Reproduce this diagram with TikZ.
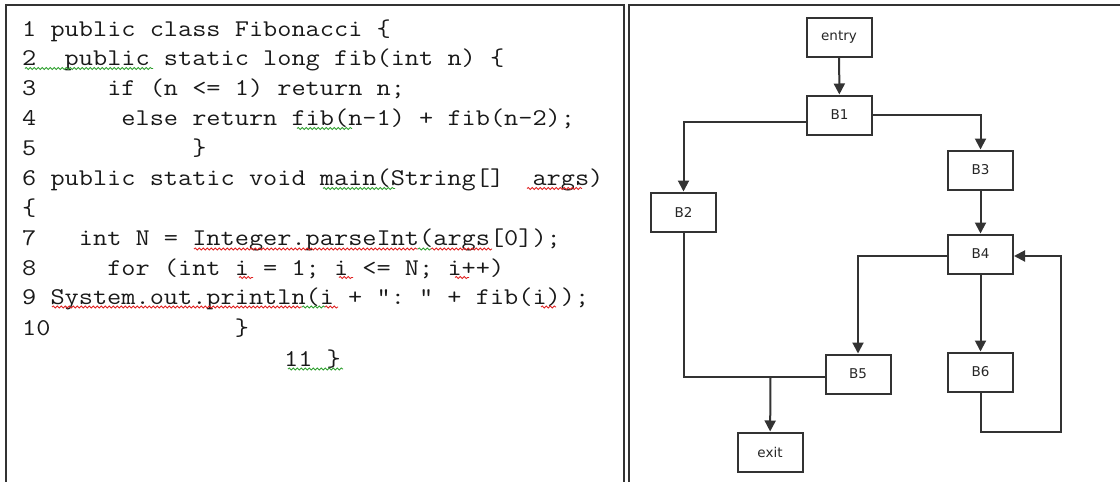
\documentclass[tikz,border=0pt]{standalone}
\usepackage{fontspec}
\usepackage{graphicx}
\usetikzlibrary{arrows.meta,decorations.pathmorphing}
\newfontfamily\labfont{DejaVu Sans}
\newcommand\codefnt{\ttfamily\fontsize{24}{30}\selectfont}
\newcommand\cl[1]{\scalebox{1.147}[1]{#1}}
\definecolor{ln}{HTML}{333333}
\definecolor{sqred}{HTML}{E02020}
\definecolor{sqgreen}{HTML}{30A030}
\tikzset{
  code/.style={anchor=base west, inner sep=0pt, font=\codefnt, text=black!90},
  blk/.style={draw=ln, line width=2pt, minimum width=65pt, minimum height=39pt, inner sep=0pt, font=\labfont\fontsize{13.5}{16}\selectfont, text=black!85},
  conn/.style={draw=ln, line width=2pt},
  arr/.style={conn, -{Triangle[length=11pt,width=11pt]}},
  frame/.style={draw=black!80, line width=2.2pt},
  sqr/.style={draw=sqred, line width=0.8pt, decorate, decoration={snake, amplitude=1.1pt, segment length=4pt}},
  sqg/.style={draw=sqgreen, line width=0.8pt, decorate, decoration={snake, amplitude=1.1pt, segment length=4pt}}
}
\begin{document}
\begin{tikzpicture}[x=1pt, y=-1pt]
\useasboundingbox (0,0) rectangle (1120,482);
% frames
\draw[frame] (6,482) -- (6,5) -- (624,5) -- (624,482);
\draw[frame] (629,482) -- (629,5) -- (1120,5);
% code
\node[code] (c1) at (22,36) {\cl{1\ public\ class\ Fibonacci\ \{}};
\node[code] (c2) at (22,65.5) {\cl{2\ \ public\ static\ long\ fib(int\ n)\ \{}};
\node[code] (c3) at (22,95.5) {\cl{3\ \ \ \ \ if\ (n\ <=\ 1)\ return\ n;}};
\node[code] (c4) at (22,125.5) {\cl{4\ \ \ \ \ \ else\ return\ fib(n-1)\ +\ fib(n-2);}};
\node[code] (c5) at (22,155.5) {\cl{5\ \ \ \ \ \ \ \ \ \ \ \}}};
\node[code] (c6) at (22,185.5) {\cl{6\ public\ static\ void\ main(String[]\ \ args)}};
\node[code] (c6b) at (22,215.5) {\cl{\{}};
\node[code] (c7) at (22,245.5) {\cl{7\ \ \ int\ N\ =\ Integer.parseInt(args[0]);}};
\node[code] (c8) at (22,275.5) {\cl{8\ \ \ \ \ for\ (int\ i\ =\ 1;\ i\ <=\ N;\ i++)}};
\node[code] (c9) at (22,304) {\cl{9\ System.out.println(i\ +\ ":\ "\ +\ fib(i));}};
\node[code] (c10) at (22,335.5) {\cl{10\ \ \ \ \ \ \ \ \ \ \ \ \ \}}};
\node[code] (c11) at (284,366) {\cl{11\ \}}};
% spell-check squiggles
\draw[sqg] (25,68.5) -- (153,68.5);
\draw[sqg] (297,128.5) -- (352,128.5);
\draw[sqg] (323,188.5) -- (395,188.5);
\draw[sqr] (527,188.5) -- (582,188.5);
\draw[sqr] (194,249) -- (418,249);
\draw[sqg] (418,249) -- (431,249);
\draw[sqr] (431,249) -- (492,249);
\draw[sqr] (239,277.5) -- (253,277.5);
\draw[sqr] (339,277.5) -- (353,277.5);
\draw[sqr] (455,277.5) -- (469,277.5);
\draw[sqr] (52,307) -- (302,307);
\draw[sqg] (302,307) -- (325,307);
\draw[sqr] (325,307) -- (338,307);
\draw[sqr] (541,307) -- (556,307);
\draw[sqg] (288,369) -- (343,369);
% flow graph
\node[blk] (entry) at (839,37) {entry};
\node[blk] (B1) at (839.5,115) {B1};
\node[blk] (B2) at (683.5,212) {B2};
\node[blk] (B3) at (980.5,170) {B3};
\node[blk] (B4) at (980.5,254) {B4};
\node[blk] (B5) at (858,374) {B5};
\node[blk] (B6) at (980.5,372) {B6};
\node[blk] (exit) at (770,452) {exit};
\coordinate (loopR) at (1061,432);
\coordinate (join) at (770.5,377);
\draw[arr] (entry) -- (B1);
\draw[arr] ([yshift=-6.5pt]B1.west) -| (B2);
\draw[arr] ([yshift=0.5pt]B1.east) -| (B3);
\draw[arr] (B3) -- (B4);
\draw[arr] ([yshift=-2pt]B4.west) -| (B5);
\draw[arr] (B4) -- (B6);
\draw[arr] (B6.south) |- (loopR) |- ([yshift=-2pt]B4.east);
\draw[conn] (B2.south) |- ([yshift=-3pt]B5.west);
\draw[arr] (join) -- (exit);
\end{tikzpicture}
\end{document}
